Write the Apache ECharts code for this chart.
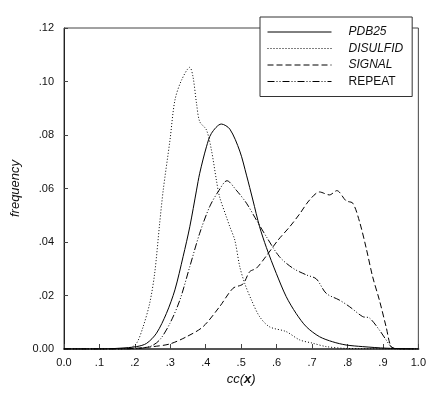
<!DOCTYPE html>
<html>
<head>
<meta charset="utf-8">
<script src="https://cdn.jsdelivr.net/npm/echarts@6/dist/echarts.min.js"></script>
<style>
  html, body { margin: 0; padding: 0; background: #fff; }
  #chart { width: 429px; height: 395px; }
</style>
</head>
<body>
<div id="chart"></div>
<script>
// series names
const seriesNames = ['PDB25', 'DISULFID', 'SIGNAL', 'REPEAT'];

// [cc(x), frequency]
const pdb25 = [
  [0.0, 0], [0.10, 0], [0.158, 0.0003], [0.205, 0.0009], [0.233, 0.0021], [0.261, 0.0059],
  [0.289, 0.0133], [0.313, 0.0221], [0.336, 0.0345], [0.355, 0.0457], [0.374, 0.0594],
  [0.383, 0.0657], [0.402, 0.0756], [0.416, 0.0806], [0.444, 0.0841], [0.468, 0.0822],
  [0.496, 0.074], [0.515, 0.065], [0.533, 0.0557], [0.552, 0.0457], [0.571, 0.038],
  [0.599, 0.0283], [0.627, 0.0196], [0.655, 0.0133], [0.684, 0.0083], [0.721, 0.0046],
  [0.758, 0.0027], [0.796, 0.0015], [0.842, 0.0009], [0.909, 0.0003], [1.0, 0]
];
const disulfid = [
  [0.0, 0], [0.15, 0], [0.186, 0.0004], [0.205, 0.0022], [0.223, 0.0082], [0.242, 0.0172],
  [0.256, 0.0284], [0.270, 0.047], [0.280, 0.0594], [0.299, 0.078], [0.313, 0.093],
  [0.332, 0.1006], [0.355, 0.1053], [0.364, 0.1018], [0.374, 0.0918], [0.383, 0.085],
  [0.402, 0.0819], [0.416, 0.0744], [0.430, 0.0632], [0.439, 0.0569], [0.458, 0.0495],
  [0.468, 0.0457], [0.482, 0.0407], [0.496, 0.0308], [0.510, 0.0245], [0.529, 0.0183],
  [0.552, 0.0121], [0.580, 0.0083], [0.627, 0.0065], [0.665, 0.0034], [0.701, 0.0022],
  [0.740, 0.0009], [0.80, 0.0002], [1.0, 0]
];
const signal = [
  [0.0, 0], [0.15, 0], [0.205, 0.0003], [0.252, 0.0009], [0.299, 0.0019], [0.346, 0.0046],
  [0.392, 0.0083], [0.439, 0.0158], [0.477, 0.0227], [0.505, 0.0243], [0.524, 0.0289],
  [0.543, 0.0302], [0.571, 0.0348], [0.604, 0.0407], [0.637, 0.0457], [0.665, 0.0505],
  [0.693, 0.0557], [0.721, 0.0587], [0.749, 0.0576], [0.770, 0.0592], [0.796, 0.0554],
  [0.815, 0.0545], [0.834, 0.0476], [0.853, 0.0376], [0.871, 0.027], [0.890, 0.0183],
  [0.909, 0.0083], [0.923, 0.0009], [0.94, 0], [1.0, 0]
];
const repeat = [
  [0.0, 0], [0.18, 0], [0.242, 0.0009], [0.270, 0.0034], [0.299, 0.0096], [0.327, 0.0183],
  [0.355, 0.0308], [0.383, 0.0433], [0.411, 0.0532], [0.435, 0.0588], [0.460, 0.0629],
  [0.486, 0.0594], [0.515, 0.0545], [0.543, 0.0482], [0.571, 0.042], [0.608, 0.0345],
  [0.646, 0.0302], [0.684, 0.0277], [0.712, 0.0262], [0.740, 0.0208], [0.777, 0.0183],
  [0.806, 0.0158], [0.843, 0.0121], [0.862, 0.0116], [0.890, 0.0071], [0.909, 0.0034],
  [0.923, 0.0009], [0.94, 0], [1.0, 0]
];

// tick labels
const xTickLabels = ['0.0', '.1', '.2', '.3', '.4', '.5', '.6', '.7', '.8', '.9', '1.0'];
const yTickLabels = ['0.00', '.02', '.04', '.06', '.08', '.10', '.12'];

const font = '"Liberation Sans", Arial, sans-serif';
const chart = echarts.init(document.getElementById('chart'));

const makeSeries = (name, data, dash) => ({
  name: name,
  type: 'line',
  data: data,
  symbol: 'none',
  showSymbol: false,
  smooth: 0.3,
  lineStyle: { color: '#000', width: 1, type: dash },
  itemStyle: { color: '#000' },
  emphasis: { disabled: true },
});

const option = {
  animation: false,
  backgroundColor: '#fff',
  grid: {
    left: 64,
    right: 10,
    top: 28,
    bottom: 46,
    show: true,
    borderColor: '#444',
    borderWidth: 1,
  },
  legend: {
    data: seriesNames,
    orient: 'vertical',
    left: 260,
    top: 17,
    padding: [9, 9, 9, 7],
    itemWidth: 64,
    itemHeight: 14,
    itemGap: 4.5,
    backgroundColor: '#fff',
    borderColor: '#333',
    borderWidth: 1,
    borderRadius: 0,
    itemStyle: { color: 'rgba(0,0,0,0)', borderWidth: 0, opacity: 0 },
    lineStyle: { width: 1 },
    formatter: (name) => (name === 'REPEAT' ? '{n|' + name + '}' : '{i|' + name + '}'),
    textStyle: {
      color: '#111',
      fontFamily: font,
      fontSize: 12,
      rich: {
        i: { fontStyle: 'italic', fontFamily: font, fontSize: 12, color: '#111', padding: [0, 0, 0, 12] },
        n: { fontFamily: font, fontSize: 12, color: '#111', padding: [0, 0, 0, 12] },
      },
    },
  },
  xAxis: {
    type: 'value',
    min: 0,
    max: 1,
    interval: 0.1,
    name: '{a|cc(}{b|x}{a|)}',
    nameLocation: 'middle',
    nameGap: 19,
    nameTextStyle: {
      rich: {
        a: { fontFamily: font, fontSize: 13, fontStyle: 'italic', color: '#111' },
        b: { fontFamily: font, fontSize: 13, fontStyle: 'italic', fontWeight: 'bold', color: '#111' },
      },
    },
    axisLine: { show: true, lineStyle: { color: '#555', width: 2 } },
    axisTick: { show: true, inside: true, length: 5, lineStyle: { color: '#444' } },
    axisLabel: {
      margin: 8,
      color: '#111',
      fontFamily: font,
      fontSize: 11,
      formatter: (v) => xTickLabels[Math.round(v * 10)],
    },
    splitLine: { show: false },
  },
  yAxis: {
    type: 'value',
    min: 0,
    max: 0.12,
    interval: 0.02,
    name: 'frequency',
    nameLocation: 'middle',
    nameGap: 34,
    nameTextStyle: { fontFamily: font, fontSize: 13, fontStyle: 'italic', color: '#111' },
    axisLine: { show: true, lineStyle: { color: '#222', width: 1 } },
    axisTick: { show: true, inside: true, length: 4, lineStyle: { color: '#444' } },
    axisLabel: {
      margin: 10,
      color: '#111',
      fontFamily: font,
      fontSize: 11,
      formatter: (v) => yTickLabels[Math.round(v / 0.02)],
    },
    splitLine: { show: false },
  },
  series: [
    makeSeries('PDB25', pdb25, 'solid'),
    makeSeries('DISULFID', disulfid, [1, 2]),
    makeSeries('SIGNAL', signal, [6, 3]),
    makeSeries('REPEAT', repeat, [7, 2, 1, 2, 1, 2]),
  ],
};

chart.setOption(option);
</script>
</body>
</html>
